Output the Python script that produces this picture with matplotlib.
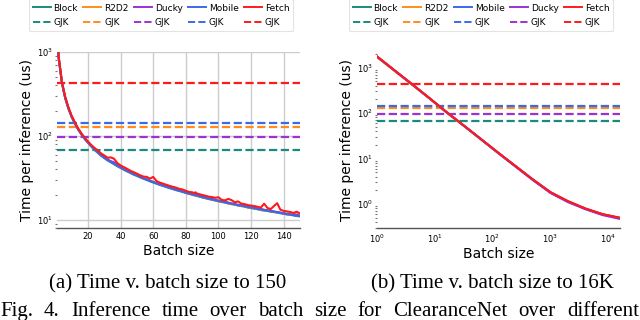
import matplotlib
matplotlib.use("Agg")
import matplotlib.pyplot as plt
from matplotlib.lines import Line2D
import numpy as np

# ---------------- data ----------------
batch_small = [1] + list(range(2, 151, 2))

block_small = [1750, 860, 430, 285, 212, 168, 140, 119, 104, 92, 83, 75, 68, 63, 58, 54.5, 51, 48.5, 46, 43.5,
               41.5, 39.5, 37.8, 36.2, 34.6, 33.4, 32.1, 30.9, 29.9, 28.8, 27.9, 27.0, 26.1, 25.4, 24.6, 23.9,
               23.3, 22.6, 22.1, 21.5, 20.9, 20.4, 19.9, 19.4, 19.0, 18.5, 18.1, 17.7, 17.4, 17.0, 16.7, 16.3,
               16.1, 15.7, 15.4, 15.2, 14.8, 14.6, 14.4, 14.0, 13.8, 13.6, 13.4, 13.1, 12.9, 12.8, 12.5, 12.4,
               12.2, 12.0, 11.8, 11.6, 11.5, 11.3, 11.1, 11.0]
r2d2_small = [1760, 870, 435, 287, 214, 169, 141, 120, 105, 93, 84, 76, 69.5, 64, 59, 55.5, 52, 49.5, 46.5, 44.5,
              41.8, 40.2, 38.0, 36.8, 35.0, 33.8, 32.5, 31.0, 30.3, 29.0, 28.4, 27.2, 26.5, 25.6, 25.0, 24.1,
              23.6, 22.8, 22.3, 21.6, 21.2, 20.5, 20.2, 19.5, 19.3, 18.6, 18.4, 17.8, 17.6, 17.1, 16.6, 16.4,
              17.2, 15.6, 15.6, 15.1, 15.0, 14.6, 14.6, 14.1, 13.9, 13.8, 13.4, 13.3, 12.9, 13.0, 12.6, 12.5,
              12.2, 12.1, 11.8, 11.7, 11.5, 11.9, 11.3, 11.1]
ducky_small = [1740, 865, 432, 286, 213, 170, 141, 120, 105, 93, 84.5, 76.5, 70, 64.5, 59.5, 56, 52.5, 50, 48.5, 45,
               42.2, 40.5, 38.4, 37.0, 35.3, 34.0, 32.6, 31.4, 30.4, 29.3, 28.3, 27.4, 26.6, 25.8, 25.1, 24.3,
               23.7, 23.0, 22.5, 21.8, 21.3, 20.8, 20.3, 21.3, 19.6, 19.0, 18.6, 18.1, 17.8, 17.3, 17.0, 16.7,
               16.3, 16.1, 15.7, 15.5, 15.1, 14.9, 14.6, 14.4, 14.1, 13.9, 13.6, 13.5, 13.2, 13.0, 12.8, 12.6,
               12.4, 12.2, 12.0, 11.8, 11.6, 11.5, 11.6, 11.2]
mobile_small = [1745, 862, 433, 284, 213, 169, 141, 120, 104.5, 92.5, 83.5, 75.5, 69, 64, 59, 55, 52, 49, 46.5, 44.2,
                42, 40, 38.2, 36.6, 35.0, 33.7, 32.3, 31.2, 30.1, 29.1, 28.1, 27.2, 26.3, 25.6, 24.8, 24.1,
                23.4, 22.8, 22.2, 21.7, 21.1, 20.6, 20.1, 19.6, 19.2, 18.7, 18.3, 17.9, 17.5, 17.2, 16.8, 16.5,
                16.2, 15.9, 15.6, 15.3, 15.0, 14.8, 14.5, 14.3, 14.0, 13.8, 13.5, 13.3, 13.1, 12.9, 12.7, 12.5,
                12.3, 12.1, 11.9, 11.7, 11.6, 11.4, 11.2, 11.1]
fetch_small = [1770, 890, 445, 295, 220, 174, 145, 123, 107, 95, 86, 78, 72, 67, 62, 58.5, 55, 55.5, 53.5, 47.5,
               44.5, 42.5, 40.5, 38.5, 37, 35.5, 34, 32.8, 32.5, 31, 32.5, 29, 27.8, 27, 26.2, 25.4,
               24.8, 24.2, 23.4, 23, 22.2, 21.5, 21.3, 20.6, 20.3, 19.8, 19.4, 18.9, 18.7, 18.3, 18.6, 17.3,
               17.0, 17.8, 17.2, 16.2, 16.6, 15.6, 15.4, 15.0, 14.8, 14.6, 14.3, 14.0, 15.6, 13.9, 13.4, 14.6,
               15.8, 13.2, 12.8, 12.6, 12.4, 12.1, 12.5, 11.9]

batch_large = [1, 2, 4, 8, 16, 32, 64, 128, 256, 512, 1024, 2048, 4096, 8192, 16384]
block_large = [1720, 860, 430, 213, 104, 52.5, 26.3, 13.1, 6.65, 3.38, 1.79, 1.14, 0.79, 0.59, 0.49]
r2d2_large = [1690, 850, 428, 212, 104, 52.3, 26.2, 13.1, 6.62, 3.36, 1.78, 1.13, 0.79, 0.59, 0.49]
mobile_large = [1740, 868, 434, 215, 105, 53, 26.5, 13.2, 6.7, 3.4, 1.8, 1.14, 0.79, 0.59, 0.49]
ducky_large = [1730, 862, 432, 214, 104.5, 52.6, 26.2, 13.0, 6.55, 3.3, 1.74, 1.1, 0.77, 0.57, 0.47]
fetch_large = [1760, 875, 437, 216, 105.5, 53.2, 26.6, 13.3, 6.75, 3.43, 1.82, 1.16, 0.8, 0.6, 0.5]

gjk = {"Block": 68, "R2D2": 128, "Ducky": 96, "Mobile": 142, "Fetch": 433}

colors = {"Block": "#1a8a7e", "R2D2": "#ff8c1a", "Ducky": "#9a32d6",
          "Mobile": "#3a6ae8", "Fetch": "#ff1a1a"}

small = {"Block": block_small, "R2D2": r2d2_small, "Ducky": ducky_small,
         "Mobile": mobile_small, "Fetch": fetch_small}
large = {"Block": block_large, "R2D2": r2d2_large, "Mobile": mobile_large,
         "Ducky": ducky_large, "Fetch": fetch_large}

order_a = ["Block", "R2D2", "Ducky", "Mobile", "Fetch"]
order_b = ["Block", "R2D2", "Mobile", "Ducky", "Fetch"]

caption_a = "(a) Time v. batch size to 150"
caption_b = "(b) Time v. batch size to 16K"
fig_caption_words = ["Fig.", "4.", "Inference", "time", "over", "batch", "size", "for",
                     "ClearanceNet", "over", "different"]

# ---------------- figure ----------------
fig = plt.figure(figsize=(6.4, 3.2), dpi=100)
ax1 = fig.add_axes([57 / 640, 1 - 228 / 320, 243 / 640, 176 / 320])
ax2 = fig.add_axes([377 / 640, 1 - 228 / 320, 243 / 640, 176 / 320])


def style(ax):
    ax.set_yscale("log")
    ax.grid(True, which="major", color="#cccccc", lw=1.0, zorder=0)
    for s in ["top", "right", "left"]:
        ax.spines[s].set_visible(False)
    ax.spines["bottom"].set_color("#555555")
    ax.spines["bottom"].set_linewidth(1.0)
    ax.tick_params(axis="both", which="major", length=0, labelsize=6, pad=3)
    ax.tick_params(axis="y", which="minor", length=1.5, width=0.8, color="#777777")
    ax.tick_params(axis="x", which="minor", length=0)
    ax.set_xlabel("Batch size", fontsize=10, labelpad=2)
    ax.set_ylabel("Time per inference (us)", fontsize=10, labelpad=2)


for ax, data, order, xs in [(ax1, small, order_a, batch_small), (ax2, large, order_b, batch_large)]:
    style(ax)
    for name in order:
        ax.axhline(gjk[name], color=colors[name], ls="--", lw=1.6, zorder=2)
    for name in order:
        ax.plot(xs, data[name], color=colors[name], lw=1.5, zorder=3)

ax1.set_xlim(1, 150)
ax1.set_ylim(8, 1000)
ax1.set_xticks([20, 40, 60, 80, 100, 120, 140])

ax2.set_xscale("log")
ax2.set_xlim(1, 16384)
ax2.set_ylim(0.297, 2190)
ax2.set_xticks([1, 10, 100, 1000, 10000])
ax2.set_yticks([1, 10, 100, 1000])
ax2.tick_params(axis="x", which="minor", length=0)

# only some gridlines are visible in the right panel
for tk in ax2.xaxis.get_major_ticks():
    tk.gridline.set_visible(tk.get_loc() in (100, 1000))
for tk in ax2.yaxis.get_major_ticks():
    tk.gridline.set_visible(tk.get_loc() in (1, 100, 1000))

# legends
for ax, order, cx in [(ax1, order_a, 161 / 640), (ax2, order_b, 481 / 640)]:
    handles, labels = [], []
    for name in order:
        handles.append(Line2D([], [], color=colors[name], lw=1.4))
        labels.append(name)
        handles.append(Line2D([], [], color=colors[name], lw=1.4, ls="--"))
        labels.append("GJK")
    leg = ax.legend(handles, labels, ncol=5, loc="lower center",
                    bbox_to_anchor=(cx, 1 - 36 / 320), bbox_transform=fig.transFigure,
                    fontsize=6.5, handlelength=2.0, handletextpad=0.3, columnspacing=0.6,
                    labelspacing=0.65, borderpad=0.45, frameon=True, fancybox=True)
    leg.get_frame().set_edgecolor("#dddddd")
    leg.get_frame().set_linewidth(0.8)

# captions
fig.text(167.5 / 640, 1 - 284 / 320, caption_a, family="Liberation Serif",
         fontsize=15, ha="center", va="center")
fig.text(492 / 640, 1 - 284 / 320, caption_b, family="Liberation Serif",
         fontsize=15, ha="center", va="center")

# justified bottom caption line (word by word)
fig.canvas.draw()
renderer = fig.canvas.get_renderer()
texts = []
for w in fig_caption_words:
    t = fig.text(0, 1 - 316 / 320, w, family="Liberation Serif", fontsize=15,
                 ha="left", va="baseline")
    texts.append(t)
widths = [t.get_window_extent(renderer).width for t in texts]
total_w = 639.0
gap = (total_w - sum(widths)) / (len(texts) - 1)
xpos = 0.0
for t, w in zip(texts, widths):
    t.set_x(xpos / 640)
    xpos += w + gap

fig.savefig("out.png", dpi=100)
